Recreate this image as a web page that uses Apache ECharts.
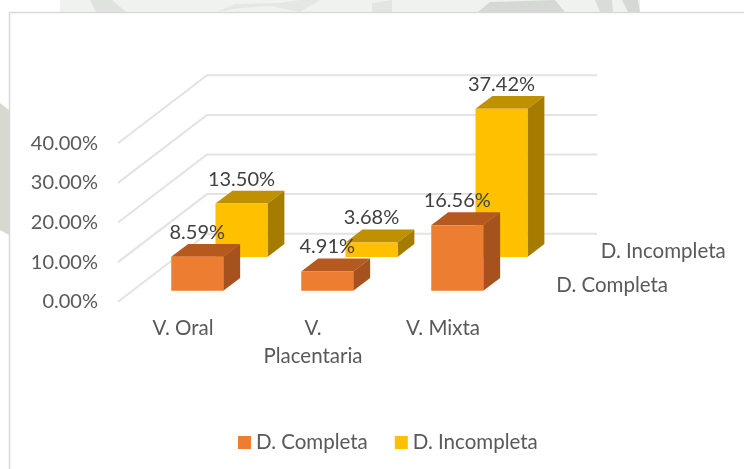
<!DOCTYPE html>
<html>
<head>
<meta charset="utf-8">
<style>html,body{margin:0;padding:0;background:#fff}#c{width:744px;height:469px}</style>
<script src="https://cdn.jsdelivr.net/npm/echarts@6/dist/echarts.min.js"></script>
</head>
<body>
<div id="c"></div>
<script>
const categories = ['V. Oral', 'V.\nPlacentaria', 'V. Mixta'];
const seriesNames = ['D. Completa', 'D. Incompleta'];
const completa = [8.59, 4.91, 16.56];
const incompleta = [13.5, 3.68, 37.42];
const yTicks = [0, 10, 20, 30, 40];

const FONT = 'Lato';
const TXT = '#595959';
const DEPTH_X = 89, DEPTH_Y = -68;
const BAR_W = 52, BAR_DEPTH = 0.19;

function project(p, f) { return [p[0] + DEPTH_X * f, p[1] + DEPTH_Y * f]; }

function barRender(depthStart, colors) {
  return function (params, api) {
    const c = api.coord([api.value(0), api.value(1)]);
    const b = api.coord([api.value(0), 0]);
    const fl = project([c[0] - BAR_W / 2 , c[1]], depthStart);
    const fr = [fl[0] + BAR_W, fl[1]];
    const bl = project([b[0] - BAR_W / 2, b[1]], depthStart);
    const br = [bl[0] + BAR_W, bl[1]];
    const tl = project(fl, BAR_DEPTH), tr = project(fr, BAR_DEPTH), brb = project(br, BAR_DEPTH);
    return {
      type: 'group',
      children: [
        { type: 'polygon', shape: { points: [fl, tl, tr, fr] }, style: { fill: colors[1] } },
        { type: 'polygon', shape: { points: [fr, tr, brb, br] }, style: { fill: colors[2] } },
        { type: 'polygon', shape: { points: [fl, fr, br, bl] }, style: { fill: colors[0] } },
        { type: 'text', z2: 50, style: {
            x: (fl[0] + fr[0]) / 2, y: fl[1] - 24.5,
            text: api.value(1).toFixed(2) + '%',
            align: 'center', verticalAlign: 'middle',
            fill: '#404040', font: '20px ' + FONT } }
      ]
    };
  };
}

function wallRender(params, api) {
  const cs = params.coordSys;
  const p = api.coord([0, api.value(0)]);
  const x0 = cs.x, y0 = p[1];
  return {
    type: 'polyline',
    shape: { points: [[x0, y0], [x0 + DEPTH_X, y0 + DEPTH_Y], [cs.x + cs.width + DEPTH_X, y0 + DEPTH_Y]] },
    style: { fill: null, stroke: '#E3E3E3', lineWidth: 2 }
  };
}

function depthLabelRender(params, api) {
  const cs = params.coordSys;
  const f = api.value(1);
  const p = project([cs.x + cs.width, cs.y + cs.height], f);
  return {
    type: 'text',
    style: { x: p[0] + 26, y: p[1] + 0.5, text: seriesNames[api.value(0)],
      align: 'left', verticalAlign: 'middle', fill: TXT, font: '20.5px ' + FONT }
  };
}

const chart = echarts.init(document.getElementById('c'), null, { renderer: 'canvas' });
chart.setOption({
  animation: false,
  backgroundColor: '#fff',
  textStyle: { fontFamily: FONT },
  graphic: [
    { type: 'rect', z: -10, silent: true, shape: { x: 60, y: 0, width: 580, height: 12 }, style: { fill: '#F0F2F0' } },
    { type: 'polygon', z: -9, silent: true, shape: { points: [[90, 0], [112, 0], [126, 12], [96, 12]] }, style: { fill: '#DFE3DE' } },
    { type: 'polygon', z: -9, silent: true, shape: { points: [[217, 12], [235, 4], [280, 3], [300, 0], [320, 0], [300, 12], [270, 6], [240, 8]] }, style: { fill: '#E4E7E3' } },
    { type: 'polygon', z: -9, silent: true, shape: { points: [[372, 12], [372, 3], [392, 0], [392, 12]] }, style: { fill: '#E2E5E1' } },
    { type: 'polygon', z: -9, silent: true, shape: { points: [[478, 12], [490, 2], [555, 0], [565, 12]] }, style: { fill: '#D5D9D3' } },
    { type: 'polygon', z: -9, silent: true, shape: { points: [[595, 0], [612, 0], [613, 12], [600, 12]] }, style: { fill: '#D9DDD7' } },
    { type: 'polygon', z: -9, silent: true, shape: { points: [[622, 0], [638, 0], [640, 12], [628, 12]] }, style: { fill: '#D5D9D3' } },
    { type: 'polygon', z: -9, silent: true, shape: { points: [[0, 103], [9, 110], [9, 235], [0, 230]] }, style: { fill: '#D5D9D0' } },
    { type: 'rect', z: -5, silent: true, shape: { x: 9.5, y: 12.5, width: 760, height: 480 },
      style: { fill: '#FFFFFF', stroke: '#D9D9D9', lineWidth: 1.5 } }
  ],
  legend: {
    left: 233, top: 427,
    itemWidth: 13, itemHeight: 13, itemGap: 27,
    icon: 'rect',
    textStyle: { color: TXT, fontSize: 20.5, fontFamily: FONT },
    data: [
      { name: seriesNames[0], itemStyle: { color: '#ED7D31' } },
      { name: seriesNames[1], itemStyle: { color: '#FFC000' } }
    ]
  },
  grid: { left: 118, top: 143.3, width: 390, height: 158.4 },
  xAxis: {
    type: 'category', data: categories,
    axisLine: { show: false }, axisTick: { show: false }, splitLine: { show: false },
    axisLabel: { color: TXT, fontSize: 20.5, lineHeight: 28, margin: 13, fontFamily: FONT, interval: 0 }
  },
  yAxis: {
    type: 'value', min: 0, max: 40, interval: 10,
    axisLine: { show: false }, axisTick: { show: false }, splitLine: { show: false },
    axisLabel: { color: TXT, fontSize: 20, margin: 20, fontFamily: FONT, formatter: v => v.toFixed(2) + '%' }
  },
  series: [
    { type: 'custom', name: 'walls', renderItem: wallRender, z: 1, silent: true,
      encode: { y: 0 }, coordinateSystem: 'cartesian2d',
      data: yTicks.map(t => [t]) },
    { type: 'custom', name: seriesNames[1], z: 2,
      renderItem: barRender(0.657, ['#FFC000', '#BF9000', '#A67C00']),
      itemStyle: { color: '#FFC000' },
      encode: { x: 0, y: 1 },
      data: incompleta.map((v, i) => [i, v]) },
    { type: 'custom', name: seriesNames[0], z: 3,
      renderItem: barRender(0.16, ['#ED7D31', '#B5591F', '#A5521F']),
      itemStyle: { color: '#ED7D31' },
      encode: { x: 0, y: 1 },
      data: completa.map((v, i) => [i, v]) },
    { type: 'custom', name: 'depth', z: 4, silent: true, renderItem: depthLabelRender,
      encode: { },
      data: [[0, 0.25], [1, 0.75]] }
  ]
});
</script>
</body>
</html>
